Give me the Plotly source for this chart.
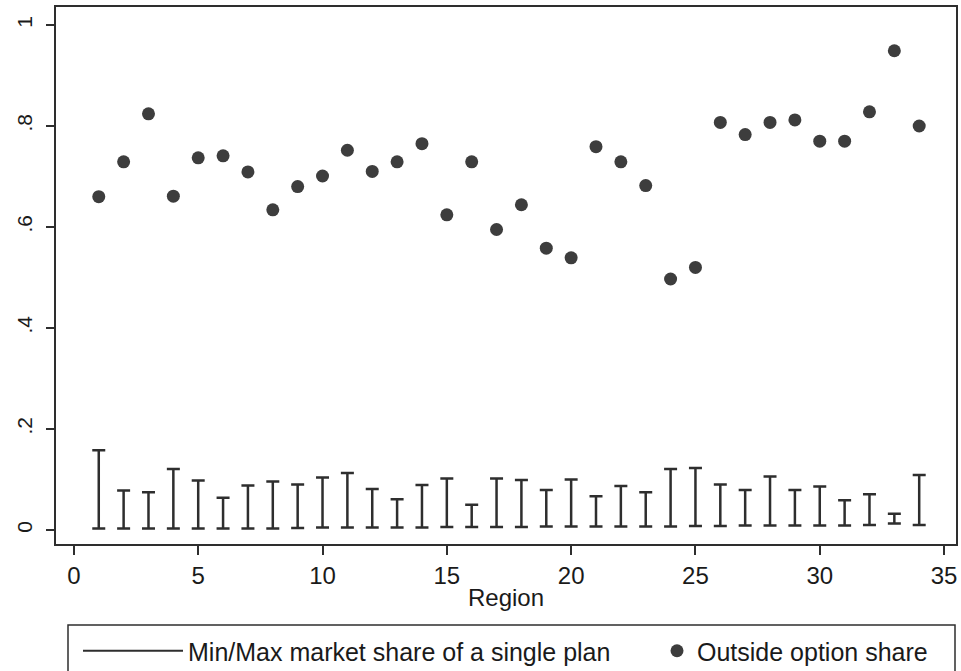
import plotly.graph_objects as go

regions = list(range(1, 35))
outside_share = [0.660, 0.729, 0.824, 0.661, 0.737, 0.741, 0.709, 0.634, 0.680, 0.701,
                 0.752, 0.710, 0.729, 0.765, 0.624, 0.729, 0.595, 0.644, 0.558, 0.539,
                 0.759, 0.729, 0.682, 0.497, 0.520, 0.807, 0.783, 0.807, 0.812, 0.770,
                 0.770, 0.828, 0.949, 0.800]
max_share = [0.158, 0.078, 0.075, 0.121, 0.098, 0.064, 0.088, 0.096, 0.090, 0.104,
             0.113, 0.081, 0.061, 0.089, 0.102, 0.050, 0.102, 0.099, 0.079, 0.100,
             0.067, 0.087, 0.075, 0.121, 0.123, 0.090, 0.079, 0.106, 0.079, 0.086,
             0.059, 0.071, 0.032, 0.109]
min_share = [0.003, 0.003, 0.003, 0.003, 0.003, 0.003, 0.003, 0.003, 0.004, 0.005,
             0.005, 0.005, 0.005, 0.005, 0.006, 0.006, 0.006, 0.006, 0.007, 0.007,
             0.007, 0.007, 0.007, 0.007, 0.008, 0.008, 0.009, 0.009, 0.009, 0.009,
             0.009, 0.010, 0.013, 0.010]
y_tickvals = [0, 0.2, 0.4, 0.6, 0.8, 1]
y_ticktext = ["0", ".2", ".4", ".6", ".8", "1"]
x_tickvals = [0, 5, 10, 15, 20, 25, 30, 35]

ink = "#2e2e2e"
dot = "#3d3d3d"
font = "Liberation Sans, Arial, sans-serif"

fig = go.Figure()

# range caps drawn as error bars from min up to max
fig.add_trace(go.Scatter(
    x=regions, y=min_share, mode="markers",
    marker=dict(size=1, opacity=0),
    error_y=dict(type="data", symmetric=False,
                 array=[mx - mn for mx, mn in zip(max_share, min_share)],
                 arrayminus=[0] * len(min_share),
                 color=ink, thickness=2.5, width=6.5),
    showlegend=False, hoverinfo="skip"))
# legend entry for range caps
fig.add_trace(go.Scatter(
    x=[None], y=[None], mode="lines", line=dict(color=ink, width=2),
    name="Min/Max market share of a single plan", legend="legend"))
fig.add_trace(go.Scatter(
    x=regions, y=outside_share, mode="markers",
    marker=dict(size=13, color=dot, line=dict(width=0)),
    name="Outside option share", legend="legend2"))

W, H = 961, 671
ml, mr, mt, mb = 56, 5, 7, 127
pw, ph = W - ml - mr, H - mt - mb

def px_x(p):
    return (p - ml) / pw

def px_y(p):
    return (H - mb - p) / ph

fig.add_shape(type="rect", xref="paper", yref="paper",
              x0=px_x(68), x1=px_x(955), y0=px_y(625), y1=px_y(700),
              line=dict(color=ink, width=1.5), fillcolor="rgba(0,0,0,0)")

fig.update_layout(
    width=W, height=H,
    margin=dict(l=ml, r=mr, t=mt, b=mb, autoexpand=False),
    paper_bgcolor="white", plot_bgcolor="white",
    font=dict(family=font, color="#1a1a1a"),
    xaxis=dict(range=[-0.72, 35.48], tickvals=x_tickvals, ticks="outside", ticklen=9,
               tickwidth=1.5, tickcolor=ink, showgrid=False, zeroline=False,
               showline=True, linecolor=ink, linewidth=2, mirror=True,
               tickfont=dict(size=24),
               title=dict(text="Region", font=dict(size=24), standoff=1)),
    yaxis=dict(range=[-0.0277, 1.0356], tickvals=y_tickvals, ticktext=y_ticktext,
               ticks="outside", ticklen=8, tickwidth=1.5, tickcolor=ink,
               showgrid=False, zeroline=False, showline=True, linecolor=ink,
               linewidth=2, mirror=True, tickangle=-90, tickfont=dict(size=21),
               ticklabelstandoff=6),
    legend=dict(orientation="h", x=px_x(78), xanchor="left", y=px_y(651), yanchor="middle",
                font=dict(size=25), itemwidth=100, bgcolor="rgba(0,0,0,0)", borderwidth=0),
    legend2=dict(orientation="h", x=px_x(657), xanchor="left", y=px_y(651), yanchor="middle",
                 font=dict(size=25), bgcolor="rgba(0,0,0,0)", borderwidth=0),
)

fig.write_html("out.html")
